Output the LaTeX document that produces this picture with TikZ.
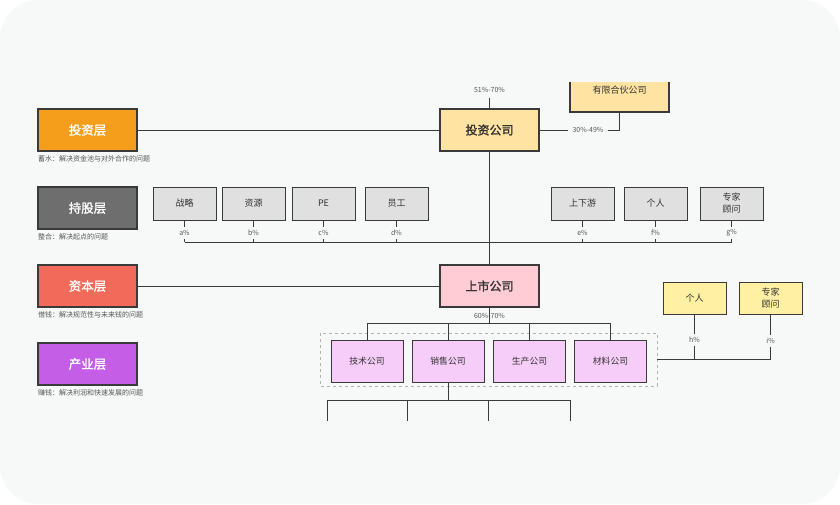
\documentclass[tikz,border=0pt]{standalone}
\usepackage{fontspec}
\setmainfont{Noto Sans CJK SC}
\newfontfamily\cjkb[FakeBold=1.5]{Noto Sans CJK SC}
\definecolor{bgc}{HTML}{F7F8F8}
\definecolor{edge}{HTML}{3A3A3A}
\definecolor{lorange}{HTML}{F59E1B}
\definecolor{lgray}{HTML}{6E6E6E}
\definecolor{lred}{HTML}{F26B5A}
\definecolor{lpurple}{HTML}{C45EE6}
\definecolor{cyellow}{HTML}{FFE3A3}
\definecolor{cpink}{HTML}{FFCCD5}
\definecolor{cgray}{HTML}{E0E0E0}
\definecolor{csub}{HTML}{F6CCF8}
\definecolor{cyel2}{HTML}{FFF0A3}
\definecolor{txt}{HTML}{333333}
\definecolor{cap}{HTML}{555555}
\begin{document}
\begin{tikzpicture}[x=1pt,y=-1pt,
  layer/.style={draw=edge,line width=1.2pt,minimum width=99pt,minimum height=42pt,inner sep=0pt,text=white,font=\cjkb\fontsize{12.5}{12.5}\selectfont},
  comp/.style={draw=edge,line width=1.2pt,minimum width=99pt,minimum height=42pt,inner sep=0pt,text=txt,font=\cjkb\fontsize{12}{12}\selectfont},
  share/.style={draw=edge,line width=1pt,fill=cgray,minimum width=63pt,minimum height=33pt,inner sep=0pt,text=txt,align=center,font=\fontsize{9}{12}\selectfont},
  sub/.style={draw=edge,line width=1pt,fill=csub,minimum width=72pt,minimum height=42pt,inner sep=0pt,text=txt,font=\fontsize{8.8}{10}\selectfont},
  capt/.style={anchor=west,inner sep=0pt,text=cap,font=\fontsize{7}{7}\selectfont},
  pct/.style={inner ysep=0pt,inner xsep=4pt,minimum height=12pt,text=cap,font=\fontsize{7}{7}\selectfont},
  conn/.style={draw=edge,line width=0.9pt}]
\useasboundingbox (0,0) rectangle (840,504);
\fill[white] (0,0) rectangle (840,504);
\fill[bgc,rounded corners=38pt] (0,0) rectangle (840,504);
\begin{scope}
\clip (0,82) rectangle (840,420);
% layers
\node[layer,fill=lorange] (L1) at (87.5,130) {投资层};
\node[layer,fill=lgray] (L2) at (87.5,208) {持股层};
\node[layer,fill=lred] (L3) at (87.5,286) {资本层};
\node[layer,fill=lpurple] (L4) at (87.5,364) {产业层};
\node[capt] (c1) at (38,158.5) {蓄水：解决资金池与对外合作的问题};
\node[capt] (c2) at (38,237) {整合：解决起点的问题};
\node[capt] (c3) at (38,314.5) {借钱：解决规范性与未来钱的问题};
\node[capt] (c4) at (38,393) {赚钱：解决利润和快速发展的问题};
% investment company
\node[comp,fill=cyellow] (inv) at (489.5,130) {投资公司};
\node[comp,fill=cyellow,minimum height=40pt] (lp) at (619.5,92) {};
\node[text=txt,font=\fontsize{9}{10}\selectfont] (lpt) at (619.5,90) {有限合伙公司};
\node[pct] (p51) at (489.5,90) {51\%-70\%};
\node[pct] (p30) at (588,130) {30\%-49\%};
\draw[conn] (L1.east) -- (inv.west);
\draw[conn] (inv.north) -- (inv.north |- 0,98);
\draw[conn] (inv.east) -- (p30.west);
\draw[conn] (p30.east) -- (p30.east -| lp.south) -- (lp.south);
% shareholders
\coordinate (bus) at (0,242);
\foreach \n/\x/\t/\p in {s1/184.5/战略/a, s2/253.5/资源/b, s3/323.5/PE/c, s4/396.5/员工/d, s5/582.5/上下游/e, s6/655.5/个人/f, s7/731.5/专家\\顾问/g}{
  \node[share] (\n) at (\x,203.5) {\t};
  \node[pct] (\n p) at (\x,233) {\p\%};
  \draw[conn] (\n.south) -- (\n p.north);
  \draw[conn] (\n p.south) -- (\n p.south |- bus);
}
\draw[conn] (s1p.south |- bus) -- (s7p.south |- bus);
% listed company
\node[comp,fill=cpink] (lst) at (489.5,286) {上市公司};
\draw[conn] (inv.south) -- (lst.north);
\draw[conn] (L3.east) -- (lst.west);
\node[pct] (p60) at (489.5,316) {60\%-70\%};
\coordinate (sbus) at (0,323);
\draw[conn] (lst.south) -- (lst.south |- sbus);
% subsidiaries
\draw[draw=gray!60,dashed,line width=0.6pt] (320,333) rectangle (657,386);
\coordinate (grp) at (657,359);
\node[sub] (t1) at (367,361) {技术公司};
\node[sub] (t2) at (448,361) {销售公司};
\node[sub] (t3) at (529.5,361) {生产公司};
\node[sub] (t4) at (610.5,361) {材料公司};
\draw[conn] (t1.north |- sbus) -- (t4.north |- sbus);
\foreach \n in {t1,t2,t3,t4}{\draw[conn] (\n.north |- sbus) -- (\n.north);}
% right shareholders
\node[share,fill=cyel2,minimum height=32pt] (r1) at (694.5,298) {个人};
\node[share,fill=cyel2,minimum height=32pt] (r2) at (770.5,298) {专家\\顾问};
\node[pct] (hp) at (694.5,340) {h\%};
\node[pct] (ip) at (770.5,341) {i\%};
\draw[conn] (r1.south) -- (hp.north);
\draw[conn] (r2.south) -- (ip.north);
\draw[conn] (hp.south) -- (hp.south |- grp);
\draw[conn] (ip.south) -- (ip.south |- grp);
\draw[conn] (grp) -- (ip.south |- grp);
% below sales company
\coordinate (bbus) at (0,400);
\draw[conn] (t2.south) -- (t2.south |- bbus);
\draw[conn] (327,400) -- (570,400);
\foreach \x in {327,407,488,570}{\draw[conn] (\x,400) -- (\x,425);}
\end{scope}
\end{tikzpicture}
\end{document}
